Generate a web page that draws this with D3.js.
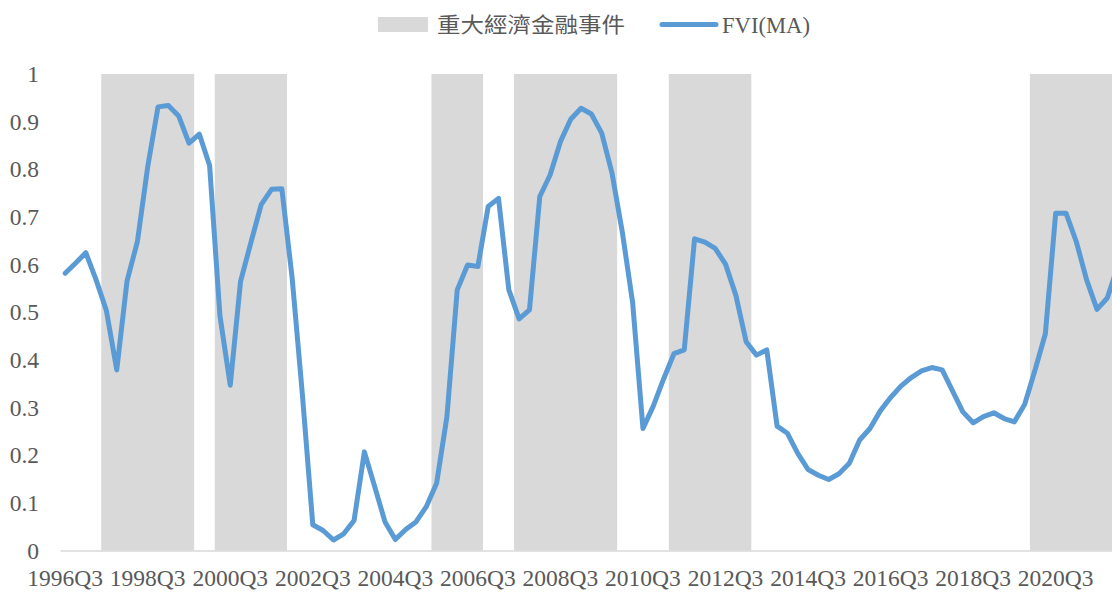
<!DOCTYPE html>
<html>
<head>
<meta charset="utf-8">
<script src="https://cdn.jsdelivr.net/npm/d3@7"></script>
<style>
  html, body { margin: 0; padding: 0; background: #fff; }
  svg { display: block; }
</style>
</head>
<body>
<svg id="chart" width="1112" height="594"></svg>
<script>
// Quarterly categories, 1996Q3 onward
const firstYear = 1996, firstQuarter = 3, quarterCount = 103;
const quarters = [];
for (let k = 0; k < quarterCount; k++) {
  const q = (firstQuarter - 1 + k);
  quarters.push(`${firstYear + Math.floor(q / 4)}Q${(q % 4) + 1}`);
}

// FVI moving average, one value per quarter
const fviMA = [
  0.582, 0.603, 0.625, 0.568, 0.503, 0.379, 0.566, 0.648, 0.805, 0.931,
  0.934, 0.912, 0.855, 0.874, 0.808, 0.493, 0.347, 0.565, 0.646, 0.726,
  0.758, 0.759, 0.572, 0.325, 0.054, 0.042, 0.022, 0.035, 0.063, 0.207,
  0.134, 0.060, 0.023, 0.044, 0.060, 0.092, 0.141, 0.281, 0.547, 0.599,
  0.596, 0.722, 0.739, 0.547, 0.486, 0.505, 0.743, 0.788, 0.858, 0.905,
  0.928, 0.916, 0.876, 0.792, 0.668, 0.520, 0.256, 0.303, 0.360, 0.413,
  0.421, 0.654, 0.647, 0.634, 0.601, 0.536, 0.438, 0.410, 0.421, 0.261,
  0.246, 0.204, 0.170, 0.158, 0.149, 0.161, 0.183, 0.232, 0.256, 0.293,
  0.321, 0.345, 0.363, 0.377, 0.384, 0.379, 0.335, 0.291, 0.268, 0.281,
  0.289, 0.277, 0.270, 0.307, 0.379, 0.455, 0.708, 0.708, 0.648, 0.568,
  0.506, 0.530, 0.595
];

// Major economic / financial event periods (first and last quarter)
const eventStarts = ["1997Q3", "2000Q2", "2005Q3", "2007Q3", "2011Q2", "2020Q1"];
const eventEnds   = ["1999Q3", "2001Q4", "2006Q3", "2009Q4", "2013Q1", "2022Q1"];

// Y-axis ticks
const yTicks = [0, 0.1, 0.2, 0.3, 0.4, 0.5, 0.6, 0.7, 0.8, 0.9, 1];
const yTickLabels = ["0", "0.1", "0.2", "0.3", "0.4", "0.5", "0.6", "0.7", "0.8", "0.9", "1"];

const legendLabels = ["重大經濟金融事件", "FVI(MA)"];

const svg = d3.select("#chart");
const plotLeft = 60, plotTop = 74, plotBottom = 550.5, bandW = 10.318;

const x = d3.scaleBand()
  .domain(quarters)
  .range([plotLeft, plotLeft + bandW * quarters.length])
  .paddingInner(0).paddingOuter(0);

const y = d3.scaleLinear().domain([0, 1]).range([plotBottom, plotTop]);

const serif = "'Liberation Serif', 'Times New Roman', serif";
const textColor = "#595959";
const tickFont = "23.5px";

// Event shading
const spans = eventStarts.map((s, k) => ({ start: s, end: eventEnds[k] }));
svg.append("g").selectAll("rect")
  .data(spans)
  .join("rect")
  .attr("x", d => x(d.start))
  .attr("width", d => x(d.end) + x.bandwidth() - x(d.start))
  .attr("y", y(1))
  .attr("height", y(0) - y(1))
  .attr("fill", "#D9D9D9");

// Category axis
const labelEvery = 8;
const xAxis = d3.axisBottom(x)
  .tickValues(quarters.filter((d, k) => k % labelEvery === 0))
  .tickSize(0)
  .tickPadding(19);
const gx = svg.append("g")
  .attr("transform", `translate(0,${plotBottom})`)
  .call(xAxis);
gx.select(".domain").attr("stroke", "#D9D9D9").attr("stroke-width", 1.5);
gx.selectAll("text")
  .attr("fill", textColor)
  .style("font-family", serif)
  .style("font-size", tickFont)
  .attr("dy", "0.71em");

// Value axis (labels only)
const yAxis = d3.axisLeft(y)
  .tickValues(yTicks)
  .tickFormat((d, k) => yTickLabels[k])
  .tickSize(0)
  .tickPadding(0);
const gy = svg.append("g")
  .attr("transform", `translate(39,0)`)
  .call(yAxis);
gy.select(".domain").remove();
gy.selectAll("text")
  .attr("fill", textColor)
  .style("font-family", serif)
  .style("font-size", tickFont);

// FVI line
const line = d3.line()
  .x((d, k) => x(quarters[k]) + x.bandwidth() / 2)
  .y(d => y(d));
svg.append("path")
  .datum(fviMA)
  .attr("d", line)
  .attr("fill", "none")
  .attr("stroke", "#5B9BD5")
  .attr("stroke-width", 5)
  .attr("stroke-linejoin", "round")
  .attr("stroke-linecap", "round");

// Legend
const legend = svg.append("g");
legend.append("rect")
  .attr("x", 378).attr("y", 17).attr("width", 50).attr("height", 15)
  .attr("fill", "#D9D9D9");
legend.append("text")
  .attr("x", 437).attr("y", 24.5).attr("dy", "0.35em")
  .attr("fill", textColor)
  .style("font-family", "'Noto Sans CJK TC', 'Noto Sans CJK SC', sans-serif")
  .style("font-size", "21px")
  .attr("textLength", 188).attr("lengthAdjust", "spacingAndGlyphs")
  .text(legendLabels[0]);
legend.append("line")
  .attr("x1", 662).attr("x2", 716).attr("y1", 24.5).attr("y2", 24.5)
  .attr("stroke", "#5B9BD5").attr("stroke-width", 5).attr("stroke-linecap", "round");
legend.append("text")
  .attr("x", 722).attr("y", 24.5).attr("dy", "0.35em")
  .attr("fill", textColor)
  .style("font-family", serif)
  .style("font-size", "23px")
  .attr("textLength", 88).attr("lengthAdjust", "spacingAndGlyphs")
  .text(legendLabels[1]);
</script>
</body>
</html>
